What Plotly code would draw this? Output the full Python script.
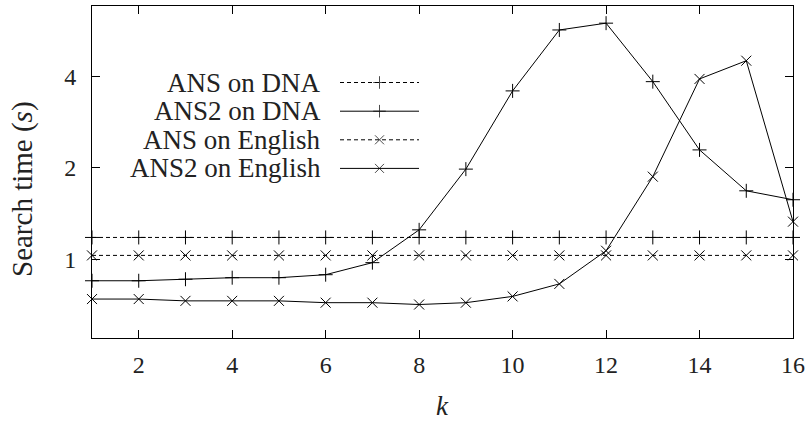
import math
import plotly.graph_objects as go

k = list(range(1, 17))
ans_dna = [1.18] * 16
ans2_dna = [0.85, 0.85, 0.86, 0.87, 0.87, 0.89, 0.975, 1.25, 1.98, 3.58, 5.68, 5.98, 3.84, 2.29, 1.68, 1.57]
ans_eng = [1.03] * 16
ans2_eng = [0.74, 0.74, 0.73, 0.73, 0.73, 0.72, 0.72, 0.71, 0.72, 0.755, 0.83, 1.067, 1.87, 3.92, 4.50, 1.33]

series_names = ["ANS on DNA", "ANS2 on DNA", "ANS on English", "ANS2 on English"]
y_ticks = [1, 2, 4]
x_ticks = [2, 4, 6, 8, 10, 12, 14, 16]

FONT = "Liberation Serif"
dotted = "4px,3px"

series = [
    (ans_dna, "cross-thin", dotted),
    (ans2_dna, "cross-thin", "solid"),
    (ans_eng, "x-thin", dotted),
    (ans2_eng, "x-thin", "solid"),
]

fig = go.Figure()
for (vals, sym, dash), name in zip(series, series_names):
    fig.add_trace(go.Scatter(
        x=k, y=vals, mode="lines+markers", name=name, showlegend=False,
        line=dict(color="black", width=1, dash=dash),
        marker=dict(symbol=sym, size=10, color="black", line=dict(color="black", width=1)),
        cliponaxis=False,
    ))

L, R, T, B = 92, 793, 6, 338


def px(xp):
    return (xp - L) / (R - L)


def py(yp):
    return (B - yp) / (B - T)


# legend drawn on a pixel-coordinate overlay axis
rows = [82.5, 111.2, 139.8, 168.4]
for (vals, sym, dash), name, ry in zip(series, series_names, rows):
    fig.add_trace(go.Scatter(
        x=[340, 379.5, 419], y=[ry, ry, ry], xaxis="x2", yaxis="y2",
        mode="lines+markers", showlegend=False, hoverinfo="skip",
        line=dict(color="black", width=1, dash=dash),
        marker=dict(symbol=sym, size=[0, 9, 0], color="black", line=dict(color="black", width=1)),
    ))
    fig.add_annotation(x=px(323), y=py(ry), xref="paper", yref="paper", text=name, showarrow=False,
                       xanchor="right", yanchor="middle",
                       font=dict(family=FONT, size=27, color="#222"))

fig.add_annotation(x=px(22), y=py(189), xref="paper", yref="paper", text="Search time (<i>s</i>)",
                   showarrow=False, textangle=-90, xanchor="center", yanchor="middle",
                   font=dict(family=FONT, size=29, color="#222"))
fig.add_annotation(x=px(442), y=py(406), xref="paper", yref="paper", text="<i>k</i>",
                   showarrow=False, xanchor="center", yanchor="middle",
                   font=dict(family=FONT, size=27, color="#222"))

axis_common = dict(showgrid=False, zeroline=False, showline=True, linecolor="black", linewidth=1,
                   mirror="ticks", ticks="inside", ticklen=8, tickwidth=1, tickcolor="black",
                   tickfont=dict(family=FONT, size=24, color="#222"))
fig.update_layout(
    width=809, height=421,
    margin=dict(l=L, r=809 - R, t=T, b=421 - B, autoexpand=False),
    plot_bgcolor="white", paper_bgcolor="white",
    xaxis=dict(range=[1, 16], tickvals=x_ticks, ticklabelstandoff=5, **axis_common),
    yaxis=dict(type="log", range=[math.log10(0.551), math.log10(6.81)], tickvals=y_ticks,
               ticktext=[str(v) for v in y_ticks], ticklabelstandoff=10, **axis_common),
    xaxis2=dict(overlaying="x", anchor="y2", range=[L, R], visible=False),
    yaxis2=dict(overlaying="y", anchor="x2", range=[B, T], visible=False),
)

fig.write_html("out.html", config={"displayModeBar": False},
               post_script="document.body.style.margin='0';document.body.style.overflow='hidden';")
